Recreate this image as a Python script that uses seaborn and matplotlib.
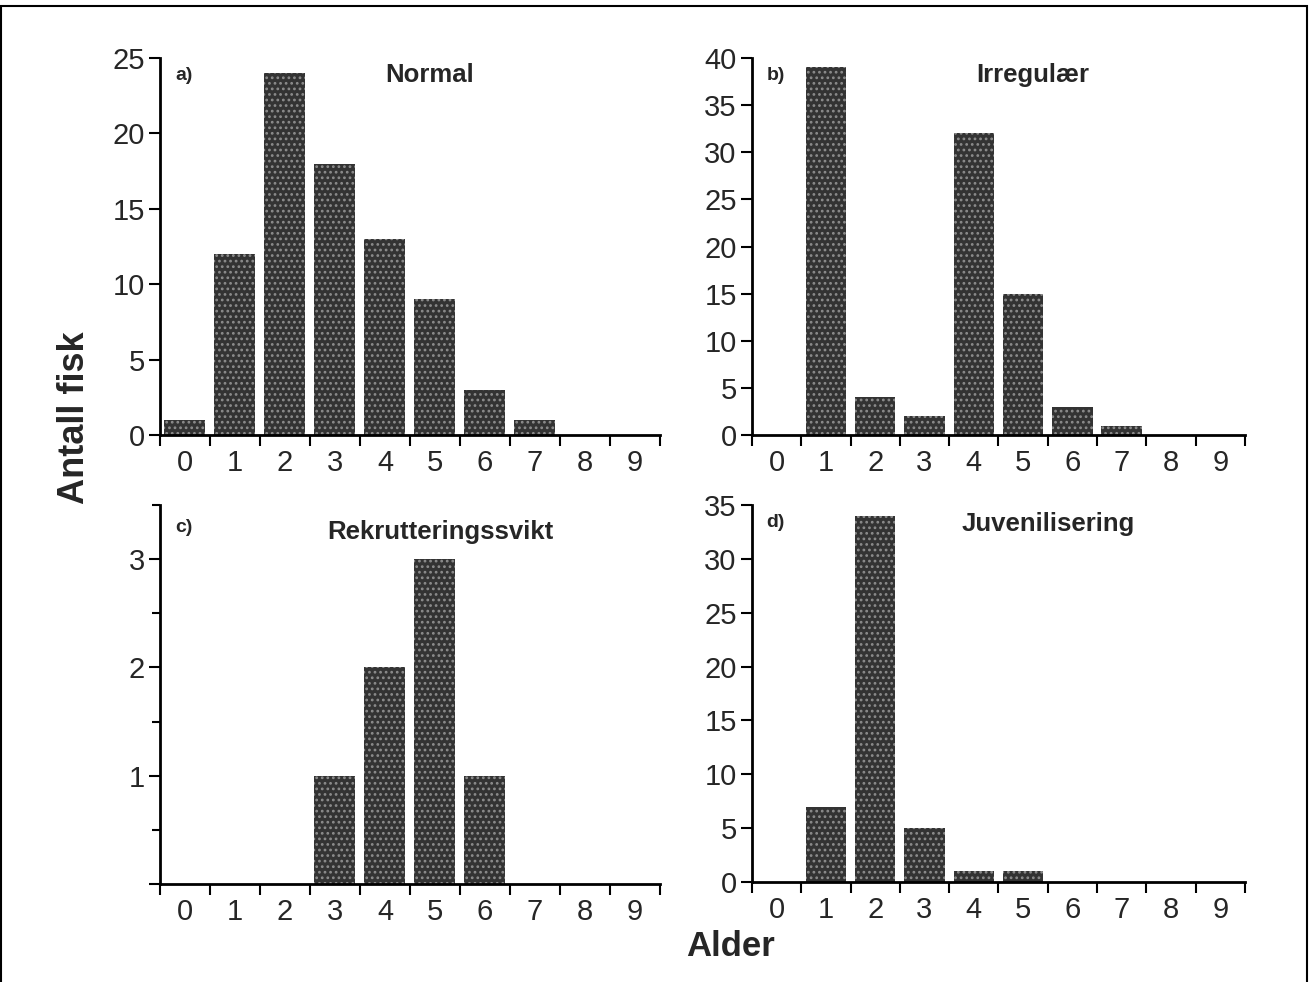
import matplotlib
matplotlib.use("Agg")
import matplotlib.pyplot as plt
import seaborn as sns
import numpy as np
from matplotlib.patches import Rectangle
from matplotlib.ticker import FixedLocator

ages = ["0", "1", "2", "3", "4", "5", "6", "7", "8", "9"]
normal = [1, 12, 24, 18, 13, 9, 3, 1, 0, 0]
irregular = [0, 39, 4, 2, 32, 15, 3, 1, 0, 0]
rekruttering = [0, 0, 0, 1, 2, 3, 1, 0, 0, 0]
juvenil = [0, 7, 34, 5, 1, 1, 0, 0, 0, 0]

panel_letters = ["a)", "b)", "c)", "d)"]
panel_titles = ["Normal", "Irregulær", "Rekrutteringssvikt", "Juvenilisering"]
y_label = "Antall fisk"
x_label = "Alder"

sns.set_theme(style="white")
plt.rcParams["font.family"] = ["Liberation Sans", "DejaVu Sans"]
plt.rcParams["hatch.linewidth"] = 1.2

fig = plt.figure(figsize=(13.1, 9.82), dpi=100)
fig.patch.set_facecolor("white")

rects = [
    [0.1221, 0.5570, 0.3817, 0.3839],
    [0.5740, 0.5570, 0.3763, 0.3839],
    [0.1221, 0.0998, 0.3817, 0.3859],
    [0.5740, 0.1018, 0.3763, 0.3839],
]
series = [normal, irregular, rekruttering, juvenil]
ylims = [25, 40, 3.5, 35]
title_pos = [(0.54, 0.955), (0.57, 0.955), (0.56, 0.93), (0.6, 0.95)]

for i, (r, vals) in enumerate(zip(rects, series)):
    ax = fig.add_axes(r)
    sns.barplot(x=ages, y=vals, ax=ax, color="#333333", saturation=1,
                width=0.82, edgecolor="#8c8c8c", linewidth=0, hatch="...")
    ax.set_xlim(-0.5, 9.5)
    ax.set_ylim(0, ylims[i])
    for s in ["top", "right"]:
        ax.spines[s].set_visible(False)
    for s in ["left", "bottom"]:
        ax.spines[s].set_linewidth(2.0)
        ax.spines[s].set_color("black")
    ax.set_xlabel("")
    ax.set_ylabel("")
    ax.set_xticks(range(10))
    ax.set_xticklabels(ages)
    ax.xaxis.set_minor_locator(FixedLocator(np.arange(-0.5, 10, 1.0)))
    ax.tick_params(axis="x", which="major", bottom=False, length=0, pad=10, labelsize=21)
    ax.tick_params(axis="x", which="minor", bottom=True, direction="out", length=8,
                   width=1.5, color="black")
    if i == 2:
        ax.set_yticks([0, 1, 2, 3])
        ax.set_yticklabels(["", "1", "2", "3"])
        ax.yaxis.set_minor_locator(FixedLocator([0.5, 1.5, 2.5, 3.5]))
        ax.tick_params(axis="y", which="minor", left=True, direction="out", length=6,
                       width=1.5, color="black")
    else:
        ax.set_yticks(np.arange(0, ylims[i] + 0.1, 5))
    ax.tick_params(axis="y", which="major", left=True, direction="out", length=8, width=1.5,
                   color="black", labelsize=21, pad=3)
    ax.grid(False)
    ax.text(0.03, 0.955 if i != 2 else 0.94, panel_letters[i], transform=ax.transAxes,
            fontsize=14, fontweight="bold", ha="left", va="center")
    ax.text(title_pos[i][0], title_pos[i][1], panel_titles[i], transform=ax.transAxes,
            fontsize=18.5, fontweight="bold", ha="center", va="center")

fig.text(0.057, 0.575, y_label, rotation=90, fontsize=26, fontweight="bold",
         ha="center", va="center")
fig.text(0.558, 0.036, x_label, fontsize=25, fontweight="bold", ha="center", va="center")

fig.add_artist(Rectangle((0.001, -0.01), 0.997, 1.004, transform=fig.transFigure,
                         fill=False, edgecolor="black", linewidth=1.5))

fig.savefig("out.png", dpi=100)
